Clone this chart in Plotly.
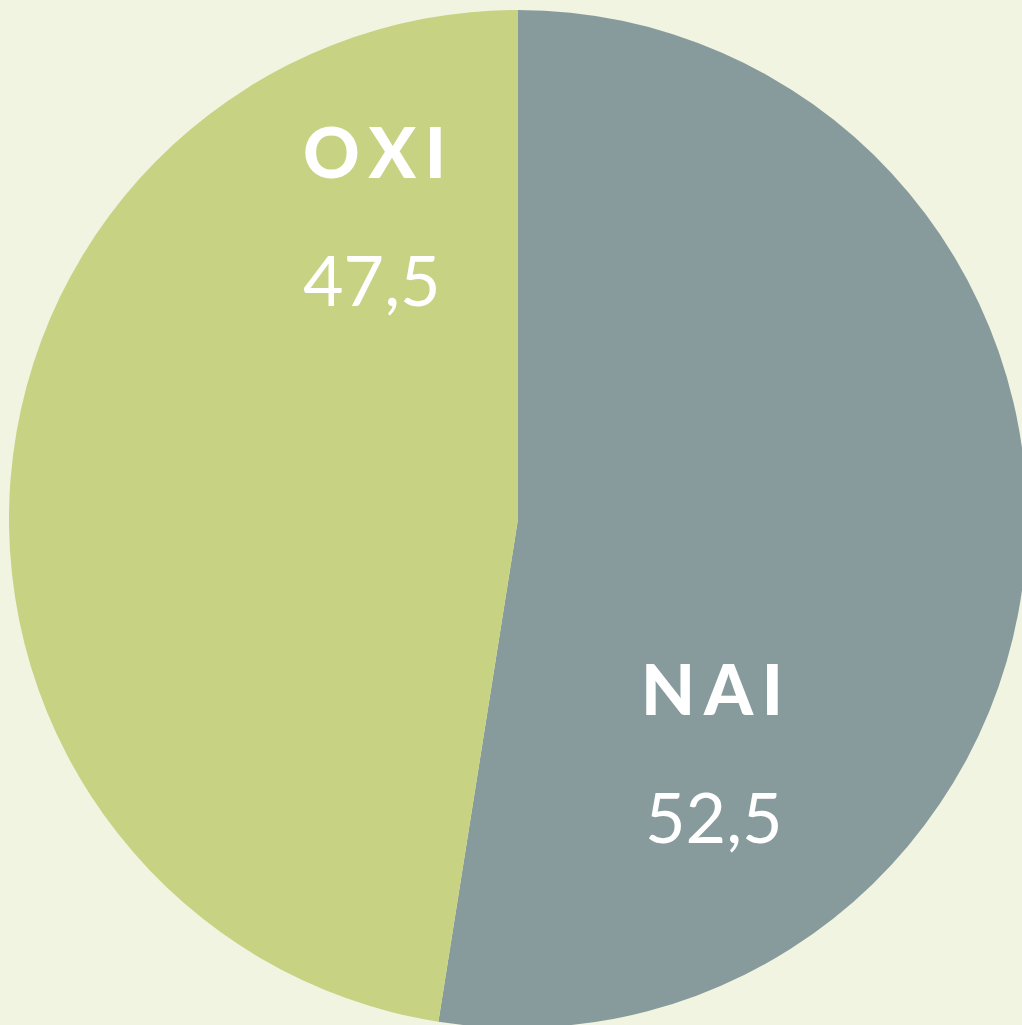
import plotly.graph_objects as go

# referendum result, percent
labels = ["NAI", "OXI"]
values = [52.5, 47.5]
value_text = ["52,5", "47,5"]

colors = ["#889b9c", "#c7d382"]
bg = "#f1f4e0"

# pie is slightly cropped at the right/bottom in the original
W, H = 1027, 1028
ml, mt = 9, 10

fig = go.Figure()

fig.add_trace(go.Pie(
    labels=labels,
    values=values,
    sort=False,
    direction="clockwise",
    rotation=0,
    marker=dict(colors=colors, line=dict(width=0)),
    textinfo="none",
    hoverinfo="label+value",
    showlegend=False,
))

# label spots in pixels (centre of text), converted to paper coords
label_px = {"NAI": (712, 688), "OXI": (374, 151)}
value_px = {"NAI": (714, 816), "OXI": (372, 279)}

pw, ph = W - ml, H - mt

def to_paper(x, y):
    return (x - ml) / pw, 1 - (y - mt) / ph

for lab, val in zip(labels, value_text):
    x, y = to_paper(*label_px[lab])
    fig.add_annotation(
        x=x, y=y, xref="paper", yref="paper",
        xanchor="center", yanchor="middle",
        text="\u2009".join(lab),
        showarrow=False,
        font=dict(family="Lato", size=70, color="white", weight=900),
    )
    x, y = to_paper(*value_px[lab])
    fig.add_annotation(
        x=x, y=y, xref="paper", yref="paper",
        xanchor="center", yanchor="middle",
        text=val,
        showarrow=False,
        font=dict(family="Lato", size=70, color="white"),
    )

fig.update_layout(
    width=W,
    height=H,
    margin=dict(l=ml, t=mt, r=0, b=0, pad=0),
    paper_bgcolor=bg,
    plot_bgcolor=bg,
)

fig.write_html(
    "out.html",
    config={"displayModeBar": False},
    post_script="document.body.style.margin='0';document.body.style.overflow='hidden';",
)
